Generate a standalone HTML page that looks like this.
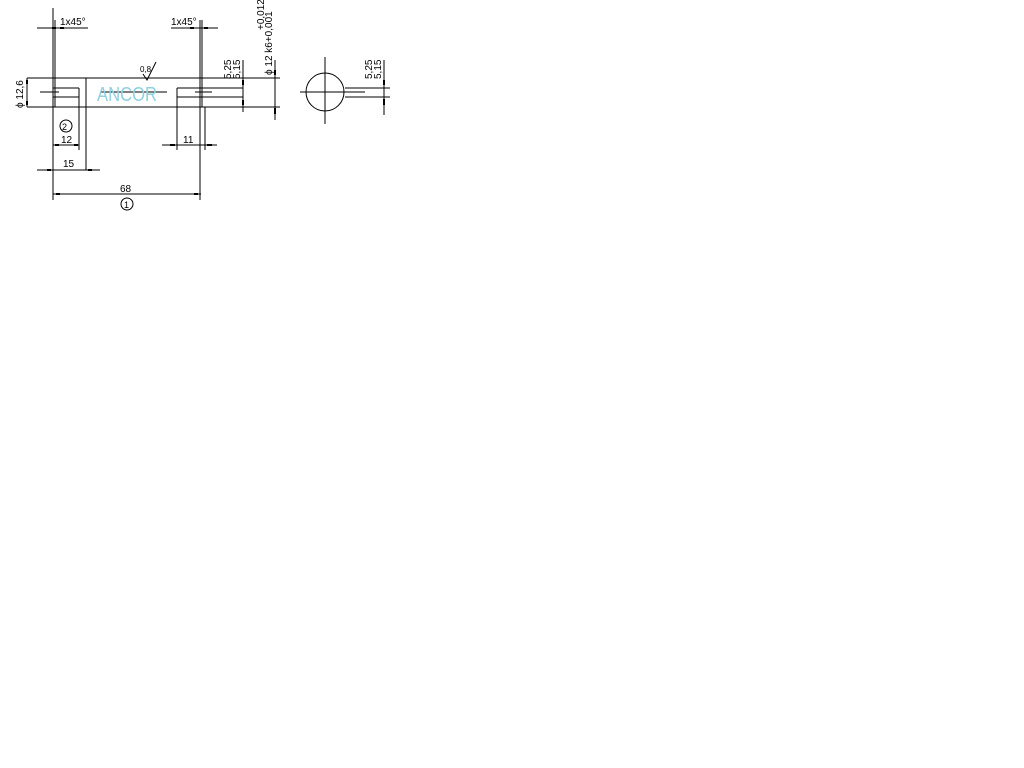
<!DOCTYPE html>
<html><head><style>body{margin:0;background:#fff}svg{display:block}text{font-family:"Liberation Sans",sans-serif;fill:#000}</style></head><body>
<svg width="1024" height="768" viewBox="0 0 1024 768" xmlns="http://www.w3.org/2000/svg">
<g stroke="#000" stroke-width="1" fill="none">
<line x1="27" y1="78" x2="260" y2="78"/>
<line x1="27" y1="107" x2="260" y2="107"/>
<line x1="86" y1="78" x2="86" y2="170"/>
<line x1="53" y1="8" x2="53" y2="200"/>
<line x1="55" y1="20" x2="55" y2="107"/>
<line x1="200" y1="20" x2="200" y2="200"/>
<line x1="202" y1="20" x2="202" y2="107"/>
<line x1="53" y1="88" x2="79" y2="88"/>
<line x1="53" y1="97" x2="79" y2="97"/>
<line x1="79" y1="88" x2="79" y2="150"/>
<line x1="177" y1="88" x2="243" y2="88"/>
<line x1="177" y1="97" x2="243" y2="97"/>
<line x1="177" y1="88" x2="177" y2="150"/>
<line x1="205" y1="107" x2="205" y2="150"/>
<line x1="243" y1="60" x2="243" y2="112"/>
<line x1="40" y1="92" x2="59" y2="92"/><line x1="100" y1="92" x2="167" y2="92"/><line x1="195" y1="92" x2="212" y2="92"/>
<line x1="27" y1="78" x2="27" y2="107"/>
<line x1="37" y1="28" x2="88" y2="28"/>
<line x1="171" y1="28" x2="218" y2="28"/>
<line x1="53" y1="145" x2="79" y2="145"/>
<line x1="37" y1="170" x2="100" y2="170"/>
<line x1="162" y1="145" x2="217" y2="145"/>
<line x1="53" y1="194" x2="201" y2="194"/>
<circle cx="66" cy="126" r="6"/>
<circle cx="127" cy="204" r="6"/>
<line x1="250" y1="78" x2="280" y2="78"/>
<line x1="250" y1="107" x2="280" y2="107"/>
<line x1="275" y1="60" x2="275" y2="120"/>
<circle cx="325" cy="92" r="19"/>
<line x1="300" y1="92" x2="365" y2="92"/>
<line x1="325" y1="57" x2="325" y2="124"/>
<line x1="345" y1="88" x2="390" y2="88"/>
<line x1="345" y1="97" x2="390" y2="97"/>
<line x1="384" y1="60" x2="384" y2="115"/>
<path d="M143 74 L147 80 L156 62"/>
</g>
<g fill="#000">
<rect x="52" y="27" width="4" height="2"/><rect x="60" y="27" width="4" height="2"/>
<rect x="190" y="27" width="4" height="2"/><rect x="204" y="27" width="4" height="2"/>
<rect x="55" y="144" width="4" height="2"/><rect x="74" y="144" width="4" height="2"/>
<rect x="47" y="169" width="4" height="2"/><rect x="88" y="169" width="4" height="2"/>
<rect x="170" y="144" width="5" height="2"/><rect x="207" y="144" width="5" height="2"/>
<rect x="56" y="193" width="4" height="2"/><rect x="194" y="193" width="4" height="2"/>
<rect x="242" y="80" width="2" height="5"/><rect x="242" y="100" width="2" height="5"/>
<rect x="274" y="70" width="2" height="5"/><rect x="274" y="108" width="2" height="6"/>
<rect x="383" y="80" width="2" height="5"/><rect x="383" y="99" width="2" height="6"/>
<rect x="26" y="80" width="2" height="4"/><rect x="26" y="101" width="2" height="4"/>
</g>
<g font-size="10">
<text x="60" y="25">1x45°</text>
<text x="171" y="25">1x45°</text>
<text x="62" y="130" font-size="9">2</text>
<text x="61" y="143">12</text>
<text x="63" y="167">15</text>
<text x="183" y="143">11</text>
<text x="120" y="192">68</text>
<text x="124" y="208" font-size="9">1</text>
<text x="140" y="72" font-size="8">0,8</text>
<text transform="translate(23,108) rotate(-90)">ϕ 12,6</text>
<text transform="translate(231,79) rotate(-90)">5,25</text>
<text transform="translate(240,79) rotate(-90)">5,15</text>
<text transform="translate(372,79) rotate(-90)">5,25</text>
<text transform="translate(381,79) rotate(-90)">5,15</text>
<text transform="translate(272,75) rotate(-90)">ϕ 12 k6+0,001</text>
<text transform="translate(264,30) rotate(-90)">+0,012</text>
</g>
<text x="97" y="101" font-size="20" textLength="60" lengthAdjust="spacingAndGlyphs" style="fill:#8fd0e0">ANCOR</text>
</svg>
</body></html>
